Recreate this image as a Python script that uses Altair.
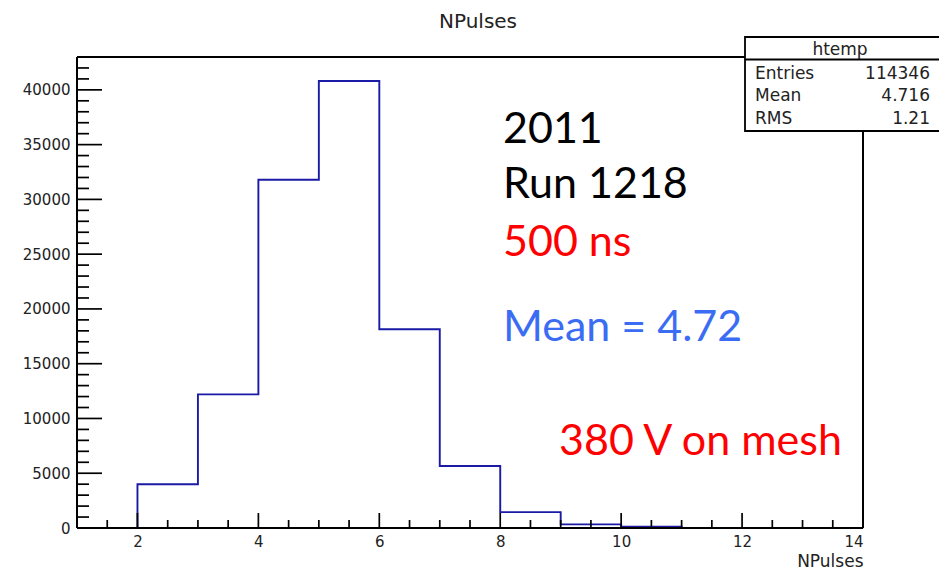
import altair as alt
import pandas as pd

# ---------------- data ----------------
bin_lo = [2, 3, 4, 5, 6, 7, 8, 9, 10]
bin_hi = [3, 4, 5, 6, 7, 8, 9, 10, 11]
counts = [4000, 12200, 31800, 40810, 18150, 5660, 1450, 330, 120]

x_major = [2, 4, 6, 8, 10, 12, 14]
x_minor = [1.5, 2.5, 3, 3.5, 4.5, 5, 5.5, 6.5, 7, 7.5, 8.5, 9, 9.5,
           10.5, 11, 11.5, 12.5, 13, 13.5]
y_major = [0, 5000, 10000, 15000, 20000, 25000, 30000, 35000, 40000]
y_minor = [v for v in range(1000, 44000, 1000) if v % 5000 != 0]

title_text = "NPulses"
x_title = "NPulses"
stats_name = "htemp"
stats_labels = ["Entries", "Mean", "RMS"]
stats_values = ["114346", "4.716", "1.21"]
notes = ["2011", "Run 1218", "500 ns", "Mean = 4.72", "380 V on mesh"]

# ---------------- layout ----------------
W, H = 786, 471
FONT = "DejaVu Sans"
NOTE_FONT = "Lato"

# histogram outline built from bins
rows = [{"x": bin_lo[0], "y": 0, "o": 0}]
k = 1
for lo, hi, c in zip(bin_lo, bin_hi, counts):
    rows.append({"x": lo, "y": c, "o": k}); k += 1
    rows.append({"x": hi, "y": c, "o": k}); k += 1
rows.append({"x": bin_hi[-1], "y": 0, "o": k})
hist_df = pd.DataFrame(rows)

xscale = alt.Scale(domain=[1, 14], nice=False, zero=False)
yscale = alt.Scale(domain=[0, 43000], nice=False)

x_axis = alt.Axis(values=x_major, ticks=False, domain=False, grid=False,
                  labelFont=FONT, labelFontSize=15, labelColor="#222",
                  labelPadding=6, title=x_title, titleFont=FONT,
                  titleFontSize=17, titleFontWeight="normal", titleColor="#222",
                  titleAnchor="end", titleAlign="right",
                  titleBaseline="alphabetic", titleY=38)
y_axis = alt.Axis(values=y_major, ticks=False, domain=False, grid=False,
                  labelFont=FONT, labelFontSize=15, labelColor="#222",
                  labelPadding=7, title=None, format="d")

hist = alt.Chart(hist_df).mark_line(color="#1a1aa6", strokeWidth=1.9).encode(
    x=alt.X("x:Q", scale=xscale, axis=x_axis),
    y=alt.Y("y:Q", scale=yscale, axis=y_axis),
    order="o:Q",
)

TW = 1.7
xmaj = alt.Chart(pd.DataFrame({"x": x_major})).mark_rule(color="black", strokeWidth=TW).encode(
    x=alt.X("x:Q", scale=xscale, axis=x_axis), y=alt.value(H), y2=alt.value(H - 15))
xmin = alt.Chart(pd.DataFrame({"x": x_minor})).mark_rule(color="black", strokeWidth=TW).encode(
    x=alt.X("x:Q", scale=xscale, axis=x_axis), y=alt.value(H), y2=alt.value(H - 8))
ymaj = alt.Chart(pd.DataFrame({"y": y_major})).mark_rule(color="black", strokeWidth=TW).encode(
    y=alt.Y("y:Q", scale=yscale, axis=y_axis), x=alt.value(0), x2=alt.value(25))
ymin = alt.Chart(pd.DataFrame({"y": y_minor})).mark_rule(color="black", strokeWidth=TW).encode(
    y=alt.Y("y:Q", scale=yscale, axis=y_axis), x=alt.value(0), x2=alt.value(12))

one = pd.DataFrame({"k": [0]})

# frame edges (top and right), drawn explicitly for solid black lines
frame_top = alt.Chart(one).mark_rule(color="black", strokeWidth=2).encode(
    x=alt.value(0), x2=alt.value(W), y=alt.value(0))
frame_right = alt.Chart(one).mark_rule(color="black", strokeWidth=2).encode(
    x=alt.value(W), y=alt.value(0), y2=alt.value(H))
frame_left = alt.Chart(one).mark_rule(color="black", strokeWidth=2).encode(
    x=alt.value(0), y=alt.value(0), y2=alt.value(H))
frame_bottom = alt.Chart(one).mark_rule(color="black", strokeWidth=2).encode(
    x=alt.value(0), x2=alt.value(W), y=alt.value(H))

title_mark = alt.Chart(pd.DataFrame({"t": [title_text]})).mark_text(
    font=FONT, fontSize=20, color="#222", align="center", baseline="alphabetic"
).encode(text="t:N", x=alt.value(401), y=alt.value(-29))

# stats box
box = alt.Chart(one).mark_rect(fill="white", stroke="black", strokeWidth=1.8).encode(
    x=alt.value(668), x2=alt.value(880), y=alt.value(-20), y2=alt.value(74))
sep = alt.Chart(one).mark_rule(color="black", strokeWidth=1.8).encode(
    x=alt.value(668), x2=alt.value(880), y=alt.value(2.5))
stat_layers = [
    alt.Chart(pd.DataFrame({"t": [stats_name]})).mark_text(
        font=FONT, fontSize=17, color="#222", align="center", baseline="middle"
    ).encode(text="t:N", x=alt.value(763), y=alt.value(-7))
]
row_y = [17, 39, 62]
for lab, val, yy in zip(stats_labels, stats_values, row_y):
    stat_layers.append(alt.Chart(pd.DataFrame({"t": [lab]})).mark_text(
        font=FONT, fontSize=17, color="#222", align="left", baseline="middle"
    ).encode(text="t:N", x=alt.value(678), y=alt.value(yy)))
    stat_layers.append(alt.Chart(pd.DataFrame({"t": [val]})).mark_text(
        font=FONT, fontSize=17, color="#222", align="right", baseline="middle"
    ).encode(text="t:N", x=alt.value(853), y=alt.value(yy)))

# annotations
note_pos = [(426, 86), (426, 141), (426, 199), (426, 284), (482, 398)]
note_col = ["black", "black", "#ff0000", "#3a6cf4", "#ff0000"]
note_layers = []
for txt, (px, py), col in zip(notes, note_pos, note_col):
    note_layers.append(alt.Chart(pd.DataFrame({"t": [txt]})).mark_text(
        font=NOTE_FONT, fontSize=43, color=col, align="left", baseline="alphabetic"
    ).encode(text="t:N", x=alt.value(px), y=alt.value(py)))

chart = alt.layer(
    hist, xmaj, xmin, ymaj, ymin, frame_top, frame_right, frame_left, frame_bottom,
    title_mark, *note_layers, box, sep, *stat_layers
).properties(
    width=W, height=H,
    autosize=alt.AutoSizeParams(type="none"),
    padding={"left": 77, "top": 57, "right": 76, "bottom": 41},
).configure_view(
    stroke=None, fill="white"
).configure(background="white")

chart.save("out.html", embed_options={"renderer": "svg", "actions": False})
